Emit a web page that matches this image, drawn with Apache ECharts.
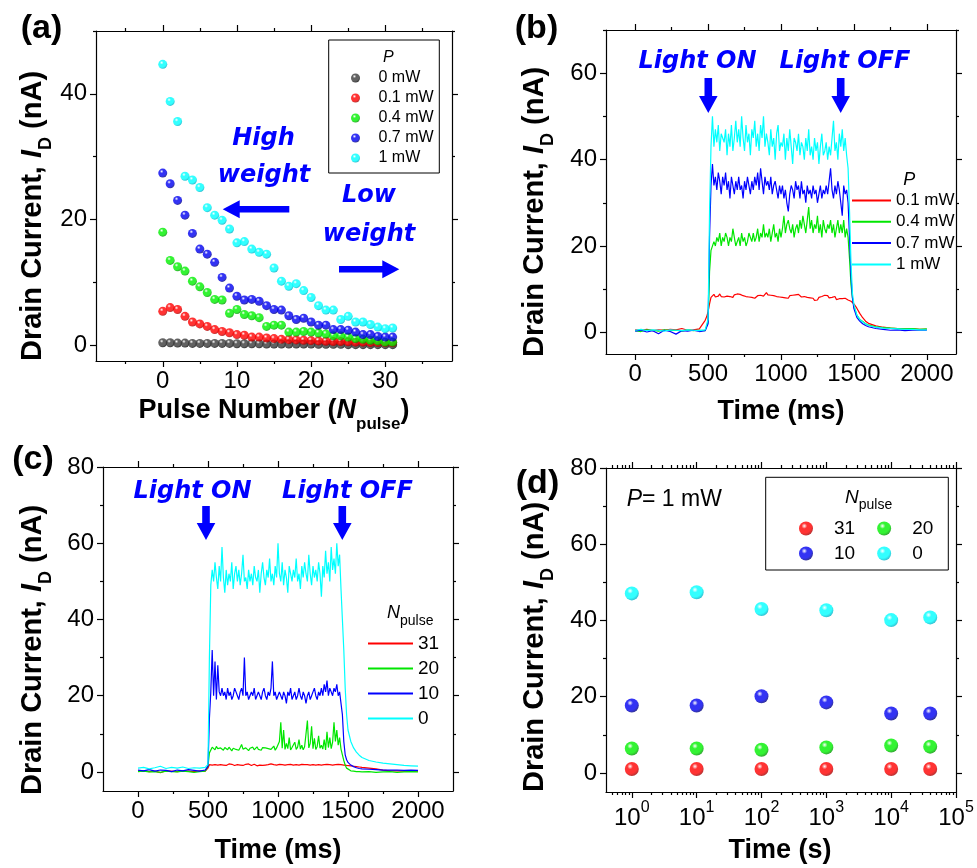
<!DOCTYPE html>
<html><head><meta charset="utf-8">
<script src="https://cdn.jsdelivr.net/npm/echarts@6/dist/echarts.min.js"></script>
<style>html,body{margin:0;padding:0;background:#fff}#c{width:977px;height:868px}</style>
</head><body><div id="c"></div><script>
// ---------------- Panel (a) ----------------
const pulseNumbers = [0,1,2,3,4,5,6,7,8,9,10,11,12,13,14,15,16,17,18,19,20,21,22,23,24,25,26,27,28,29,30,31];
const aNames = ['0 mW','0.1 mW','0.4 mW','0.7 mW','1 mW'];
const aP0  = [0.4,0.4,0.35,0.35,0.3,0.3,0.3,0.3,0.3,0.3,0.25,0.25,0.25,0.25,0.2,0.2,0.2,0.2,0.2,0.2,0.2,0.15,0.15,0.15,0.15,0.1,0.1,0.1,0.1,0.1,0.1,0.1];
const aP01 = [5.4,6.0,5.7,4.6,3.7,3.4,3.0,2.5,2.2,2.0,1.7,1.6,1.3,1.3,1.16,1.06,0.95,0.9,0.85,0.8,0.75,0.7,0.65,0.6,0.6,0.55,0.5,0.5,0.45,0.45,0.4,0.4];
const aP04 = [18.0,13.5,12.5,11.8,10.2,9.3,8.4,7.3,7.2,5.1,5.7,4.9,4.7,4.4,3.0,3.2,3.2,2.1,2.1,2.2,2.1,1.96,1.8,1.5,1.5,1.3,1.06,0.95,0.8,0.7,0.5,0.5];
const aP07 = [27.4,25.7,23.05,20.7,17.8,15.3,14.5,13.2,10.8,9.1,7.8,7.2,7.3,7.0,6.3,5.7,5.6,4.7,4.1,4.3,3.7,3.2,3.2,2.5,2.5,2.4,2.1,1.7,1.7,1.4,1.3,1.3];
const aP1  = [44.7,38.8,35.6,26.9,26.3,25.1,21.9,20.7,19.9,18.5,16.3,16.5,15.3,14.8,14.5,12.3,10.2,9.4,9.8,8.7,7.6,6.3,5.6,5.6,4.1,4.6,3.7,3.7,3.3,2.9,2.65,2.75];

// ---------------- Panel (b) ----------------
const bNames = ['0.1 mW ','0.4 mW ','0.7 mW ','1 mW '];
const bTime = [0,40,80,120,160,200,240,280,320,360,400,440,480,
 490,500,510,520,
 530,540,550,560,570,580,590,600,
 610,620,630,640,650,660,670,680,690,700,
 710,720,730,740,750,760,770,780,790,800,
 810,820,830,840,850,860,870,880,890,900,
 910,920,930,940,950,960,970,980,990,1000,
 1010,1020,1030,1040,1050,1060,1070,1080,1090,1100,
 1110,1120,1130,1140,1150,1160,1170,1180,1190,1200,
 1210,1220,1230,1240,1250,1260,1270,1280,1290,1300,
 1310,1320,1330,1340,1350,1360,1370,1380,1390,1400,
 1410,1420,1430,1440,1450,
 1460,1470,1480,1490,1500,1520,1540,1560,1580,1600,1650,1700,1750,1800,1850,1900,1950,2000];
const bP01 = [0.6,0.5,0.7,0.4,0.6,0.5,0.7,0.6,0.9,0.5,0.6,0.8,2.8,
 3.6,4.8,6.6,8.1,
 8.5,8.8,8.2,8.6,8.4,8.9,8.3,8.7,
 8.2,8.6,8.4,8.8,8.3,8.5,8.1,8.7,8.4,8.9,
 9.3,8.8,9.0,8.5,8.7,8.3,8.6,8.2,8.4,8.1,
 8.3,7.9,8.2,8.5,8.1,8.6,8.9,8.4,8.8,9.2,
 8.7,9.0,8.6,8.9,8.5,8.8,8.3,8.6,8.2,8.5,
 8.1,8.4,8.0,8.3,7.9,8.5,8.2,8.6,8.3,8.7,
 8.4,8.8,8.5,8.2,8.6,8.3,8.7,8.1,8.4,8.0,
 7.6,7.9,7.4,7.8,7.5,8.1,7.7,8.3,7.9,8.6,
 8.2,8.5,8.0,7.7,8.1,7.8,8.3,7.6,8.0,7.8,
 7.4,7.8,7.5,7.9,7.6,
 7.5,7.4,7.2,7.0,6.6,5.6,4.4,3.4,2.6,2.1,1.5,1.2,1.0,0.9,0.8,0.8,0.7,0.7];
const bP04 = [0.4,0.2,0.6,0.5,0.3,0.6,0.4,0.5,0.3,0.6,0.4,0.5,0.4,
 0.5,2.5,14,19,
 19,21,20,22,21,23,20,22,
 21,23,22,20,22,21,24,22,20,21,
 22,20,23,21,22,20,21,23,22,21,
 23,21,22,24,21,23,22,25,22,23,
 22,24,21,23,25,22,23,21,24,22,
 24,27,23,25,26,24,23,25,22,24,
 25,23,26,24,27,25,23,26,29,24,
 26,23,25,24,27,23,25,22,26,24,
 23,25,24,26,23,25,22,24,26,23,
 25,23,26,22,24,
 22,17,11,8,6,4,3,2.5,2,1.7,1.3,1.1,1.0,0.9,0.8,0.9,0.7,0.8];
const bP07 = [0.3,0.5,0.1,0.4,-0.3,0.5,0.2,-0.4,0.4,0.3,0.5,0.2,0.4,
 0.4,2,22,34,
 39,34,36,33,37,35,32,36,
 34,37,33,35,31,36,34,32,35,33,
 36,33,34,31,35,33,36,34,32,35,
 33,36,34,37,33,38,35,32,36,34,
 35,33,36,32,34,35,33,31,34,32,
 34,31,33,30,28,32,34,33,31,35,
 33,34,31,35,32,33,30,34,32,33,
 31,34,32,33,30,32,34,31,33,32,
 34,32,35,38,33,31,34,32,35,33,
 30,27,34,32,33,
 30,22,13,8,5.5,3.5,2.6,2.0,1.6,1.3,0.9,0.7,0.5,0.6,0.4,0.5,0.5,0.5];
const bP1 = [0.5,0.7,0.4,0.6,0.5,0.3,0.6,0.5,0.4,0.6,0.5,0.4,0.6,
 0.5,3,28,43,
 50,43,47,44,48,42,46,45,
 44,47,41,46,43,48,42,45,49,44,
 47,43,50,45,42,48,44,46,41,47,
 45,49,43,46,42,48,45,50,43,46,
 44,41,47,43,45,40,46,48,42,44,
 43,46,40,45,42,47,43,39,45,44,
 42,46,41,44,43,40,45,42,47,41,
 43,40,45,42,44,39,43,46,41,42,
 44,40,43,41,45,49,42,44,40,46,
 43,47,42,45,41,
 38,28,16,9,6.5,4,3,2.4,2,1.6,1.2,1,0.9,0.8,0.7,0.7,0.6,0.6];

// ---------------- Panel (c) ----------------
const cNames = ['31','20','10','0'];
const cTime = [0,40,80,120,160,200,240,280,320,360,400,440,480,
 490,500,510,
 520,530,540,550,560,570,580,590,600,
 610,620,630,640,650,660,670,680,690,700,
 710,720,730,740,750,760,770,780,790,800,
 810,820,830,840,850,860,870,880,890,900,
 910,920,930,940,950,960,970,980,990,1000,
 1010,1020,1030,1040,1050,1060,1070,1080,1090,1100,
 1110,1120,1130,1140,1150,1160,1170,1180,1190,1200,
 1210,1220,1230,1240,1250,1260,1270,1280,1290,1300,
 1310,1320,1330,1340,1350,1360,1370,1380,1390,1400,
 1410,1420,1430,1440,
 1450,1460,1470,1480,1490,1500,1520,1540,1560,1580,1600,1650,1700,1750,1800,1850,1900,1950,2000];
const cN31 = [0.2,0.3,0.1,0.2,-0.2,0.3,0.2,0.1,0.3,0.2,0.1,0.3,0.2,
 0.3,1.0,1.9,
 2.1,1.8,2.0,1.9,2.2,1.8,2.0,1.9,2.1,
 1.8,2.0,1.7,1.9,2.1,1.8,2.0,1.9,1.7,2.0,
 1.9,2.1,1.8,2.0,1.7,1.9,2.0,1.8,2.1,1.9,
 1.7,1.9,2.0,1.8,1.6,1.9,1.8,2.0,1.7,1.9,
 1.8,2.0,1.9,1.7,2.1,1.8,1.9,2.0,1.8,1.9,
 2.0,1.8,1.9,2.1,1.8,2.0,1.9,1.7,2.0,1.9,
 1.8,2.0,1.9,2.1,1.8,1.9,2.0,1.8,1.9,2.1,
 1.9,2.0,1.8,2.1,1.9,2.0,1.8,2.0,1.9,2.1,
 1.8,2.0,1.9,1.7,2.0,1.8,1.9,2.1,1.8,2.0,
 1.9,1.8,2.0,1.9,
 1.9,1.9,1.8,1.8,1.7,1.7,1.6,1.5,1.4,1.3,1.2,1.0,0.8,0.5,0.3,0.3,0.2,0.2,0.2];
const cN20 = [0.1,0.2,0.0,0.1,-0.1,0.2,0.1,0.0,0.2,0.1,-0.1,0.1,0.2,
 0.3,1.5,5.0,
 5.5,6.5,6.0,5.8,6.7,6.1,5.6,6.3,6.0,
 5.7,6.4,6.1,5.8,6.5,6.0,5.5,6.2,6.6,5.9,
 6.1,5.7,6.4,7.2,6.0,5.8,6.3,6.1,5.6,6.2,
 6.0,6.5,5.8,6.2,6.6,5.9,6.1,5.7,6.4,6.0,
 6.3,5.8,6.1,6.5,5.9,6.2,6.8,5.7,6.3,6.0,
 8.0,13.0,6.2,11.0,5.9,7.5,6.1,9.0,5.8,6.4,
 6.2,7.8,5.9,6.5,8.5,6.0,7.0,5.8,6.6,10.0,
 13.5,6.3,7.5,12.0,6.1,8.8,5.9,6.7,9.5,6.2,
 7.0,6.0,8.5,5.8,10.5,6.4,9.0,6.1,7.8,13.0,
 8.0,11.0,7.0,9.0,
 6.0,4.5,3.0,1.8,1.0,0.6,0.3,0.2,0.1,0.1,0.0,0.1,-0.1,0.0,0.1,-0.1,0.0,0.1,0.0];
const cN10 = [0.5,0.3,0.6,0.2,0.5,0.4,0.1,0.5,0.3,0.6,0.4,0.2,0.5,
 0.5,1.5,14,
 21,32,20,29,19,28,21,20,22,
 20,21,19,22,20,21,19,20,22,21,
 20,19,21,22,20,30,20,21,19,20,
 21,20,22,19,20,21,20,19,21,22,
 20,19,21,20,22,29,20,21,19,20,
 21,20,19,21,20,18,21,20,22,19,
 20,21,19,20,22,20,19,21,20,18,
 20,21,19,20,21,22,20,19,21,20,
 22,20,23,21,24,20,22,21,20,22,
 21,23,20,21,
 21,15,8,4.5,3.2,2.5,1.8,1.4,1.1,0.9,0.8,0.7,0.6,0.5,0.5,0.5,0.4,0.5,0.4];
const cN0 = [1.0,1.2,0.8,1.1,1.5,0.9,1.2,1.0,1.3,0.9,1.1,1.0,1.2,
 1.0,2.0,30,
 49,53,50,55,51,48,54,50,59,
 51,47,53,49,52,50,55,48,52,54,
 50,53,49,52,57,50,51,48,53,50,
 52,49,54,51,50,53,47,52,55,51,
 49,53,51,56,50,52,49,54,51,60,
 52,50,55,49,53,51,47,54,52,50,
 53,51,56,50,52,48,54,51,55,52,
 50,57,52,49,54,51,53,50,55,52,
 46,54,51,58,52,55,50,59,53,56,
 52,60,54,57,
 48,40,32,22,15,11,8,6.3,5.2,4.4,3.8,3.0,2.6,2.3,2.1,1.9,1.7,1.6,1.5];

// ---------------- Panel (d) ----------------
const dNames = ['31 ','20 ','10 ','0 '];
const dTime = [1,10,100,1000,10000,40000];
const dN31 = [1.05,1.05,1.05,1.05,1.05,1.05];
const dN20 = [6.4,6.4,6.1,6.7,7.2,6.9];
const dN10 = [17.7,17.7,20.1,18.5,15.6,15.6];
const dN0  = [47.1,47.4,43.0,42.7,40.1,40.8];

// ---------------- Ticks ----------------
const aXMajor=[0,10,20,30], aXMinor=[-5,5,15,25,35];
const aYMajor=[0,20,40], aYMinor=[10,30,50];
const bXMajor=[0,500,1000,1500,2000], bXMinor=[250,750,1250,1750];
const bYMajor=[0,20,40,60], bYMinor=[10,30,50,70];
const cXMajor=[0,500,1000,1500,2000], cXMinor=[250,750,1250,1750];
const cYMajor=[0,20,40,60,80], cYMinor=[10,30,50,70];
const dXMajor=[1,10,100,1000,10000,100000];
const dXMinor=[0.5,0.6,0.7,0.8,0.9,2,3,4,5,6,7,8,9,20,30,40,50,60,70,80,90,200,300,400,500,600,700,800,900,2000,3000,4000,5000,6000,7000,8000,9000,20000,30000,40000,50000,60000,70000,80000,90000];
const dYMajor=[0,20,40,60,80], dYMinor=[10,30,50,70];

const FONT = '"Liberation Sans", Arial, Helvetica, sans-serif';
const AFONT = '"DejaVu Sans", Verdana, sans-serif';
const BLUE = '#0000ff';

const grids = [
  {left:96, top:31, width:356, height:330},
  {left:606, top:30, width:350, height:324},
  {left:103, top:467, width:350, height:324},
  {left:606, top:468, width:350, height:324}
].map(g => Object.assign({containLabel:false, outerBoundsMode:'none'}, g));

const xAxes = [], yAxes = [];
const LS = {color:'#000', width:1.2};
function addAxes(list, gi, type, min, max, major, minor, posMain, posOpp, label) {
  const base = {gridIndex:gi, type, min, max, splitLine:{show:false}, splitArea:{show:false}};
  if (type === 'log') base.logBase = 10;
  const idx = list.length;
  list.push(Object.assign({}, base, {position:posMain,
    axisLine:{show:true,onZero:false,lineStyle:LS},
    axisTick:{show:true,inside:false,length:6,customValues:major,lineStyle:LS},
    axisLabel:Object.assign({show:true,customValues:major,color:'#000',fontSize:24,fontFamily:FONT,
      formatter: v => String(v)}, label)}));
  list.push(Object.assign({}, base, {position:posMain,
    axisLine:{show:false,onZero:false},
    axisTick:{show:true,inside:false,length:3,customValues:minor,lineStyle:LS},
    axisLabel:{show:false}}));
  list.push(Object.assign({}, base, {position:posOpp,
    axisLine:{show:true,onZero:false,lineStyle:LS},
    axisTick:{show:true,inside:false,length:6,customValues:major,lineStyle:LS},
    axisLabel:{show:false}}));
  list.push(Object.assign({}, base, {position:posOpp,
    axisLine:{show:false,onZero:false},
    axisTick:{show:true,inside:false,length:3,customValues:minor,lineStyle:LS},
    axisLabel:{show:false}}));
  return idx;
}
const xl = {margin:8}, yl = {margin:9};
const aX = addAxes(xAxes,0,'value',-9,39,aXMajor,aXMinor,'bottom','top',xl);
const aY = addAxes(yAxes,0,'value',-2.5,50,aYMajor,aYMinor,'left','right',yl);
const bX = addAxes(xAxes,1,'value',-200,2200,bXMajor,bXMinor,'bottom','top',xl);
const bY = addAxes(yAxes,1,'value',-5,70,bYMajor,bYMinor,'left','right',yl);
const cX = addAxes(xAxes,2,'value',-250,2250,cXMajor,cXMinor,'bottom','top',xl);
const cY = addAxes(yAxes,2,'value',-5,80,cYMajor,cYMinor,'left','right',yl);
const dX = addAxes(xAxes,3,'log',0.4,100000,dXMajor,dXMinor,'bottom','top',{
  margin:8,
  formatter: v => '{b|10}{p|' + Math.round(Math.log(v)/Math.LN10) + '}',
  rich:{b:{fontSize:24,fontFamily:FONT,color:'#000',lineHeight:36},
        p:{fontSize:16,fontFamily:FONT,color:'#000',verticalAlign:'top',lineHeight:16}}});
const dY = addAxes(yAxes,3,'value',-5,80,dYMajor,dYMinor,'left','right',yl);

function sphere(base, dark) {
  return {type:'radial', x:0.38, y:0.32, r:0.72, colorStops:[
    {offset:0,color:'#ffffff'},{offset:0.28,color:base},{offset:0.7,color:base},{offset:1,color:dark}]};
}
const ballColors = [['#3a3a3a','#000000'],['#ff0000','#990000'],['#00f000','#008800'],['#0000f0','#000070'],['#00ffff','#00a8c0']];
const lineColors = ['#ff0000','#00e600','#0000ff','#00ffff'];

const series = [];
[aP0,aP01,aP04,aP07,aP1].forEach((arr,k) => series.push({
  type:'scatter', name:aNames[k], xAxisIndex:aX, yAxisIndex:aY, symbolSize:9,
  itemStyle:{color:sphere(ballColors[k][0],ballColors[k][1])},
  data: pulseNumbers.map((n,i) => [n, arr[i]])
}));
[bP01,bP04,bP07,bP1].forEach((arr,k) => series.push({
  type:'line', name:bNames[k], xAxisIndex:bX, yAxisIndex:bY, symbol:'none',
  lineStyle:{color:lineColors[k], width:1.2}, itemStyle:{color:lineColors[k]},
  data: bTime.map((t,i) => [t, arr[i]])
}));
[cN31,cN20,cN10,cN0].forEach((arr,k) => series.push({
  type:'line', name:cNames[k], xAxisIndex:cX, yAxisIndex:cY, symbol:'none',
  lineStyle:{color:lineColors[k], width:1.2}, itemStyle:{color:lineColors[k]},
  data: cTime.map((t,i) => [t, arr[i]])
}));
[dN31,dN20,dN10,dN0].forEach((arr,k) => series.push({
  type:'scatter', name:dNames[k], xAxisIndex:dX, yAxisIndex:dY, symbolSize:14,
  itemStyle:{color:sphere(ballColors[k+1][0],ballColors[k+1][1])},
  data: dTime.map((t,i) => [t, arr[i]])
}));

const trimName = n => n.replace(/\s+$/,'');
const legends = [
  {data:aNames, orient:'vertical', left:351, top:70, itemWidth:36, itemHeight:9, itemGap:4, padding:0, selectedMode:false,
   textStyle:{fontSize:16, lineHeight:16, fontFamily:FONT, color:'#000'}},
  {data:bNames, orient:'vertical', left:852, top:192, itemWidth:39, itemHeight:2, itemGap:4.3, padding:0, selectedMode:false,
   icon:'rect', formatter:trimName, textStyle:{fontSize:17, lineHeight:17, fontFamily:FONT, color:'#000'}},
  {data:cNames, orient:'vertical', left:368, top:634, itemWidth:45, itemHeight:2, itemGap:6, padding:0, selectedMode:false,
   icon:'rect', textStyle:{fontSize:19, lineHeight:19, fontFamily:FONT, color:'#000'}},
  {data:['31 ','20 '], orient:'horizontal', left:799, top:519, itemWidth:46, itemHeight:14, itemGap:22, padding:0, selectedMode:false,
   formatter:trimName, textStyle:{fontSize:19, lineHeight:18, fontFamily:FONT, color:'#000'}},
  {data:['10 ','0 '], orient:'horizontal', left:799, top:544, itemWidth:46, itemHeight:14, itemGap:22, padding:0, selectedMode:false,
   formatter:trimName, textStyle:{fontSize:19, lineHeight:18, fontFamily:FONT, color:'#000'}}
];

// ---------------- Graphic (text, arrows, frames) ----------------
const g = [];
function txt(x, y, text, font, fill, align) {
  g.push({type:'text', x, y, silent:true, style:{text, font, fill:fill||'#000', align:align||'center', verticalAlign:'middle'}});
}
function richTxt(x, y, text, rich, rotation, align) {
  g.push({type:'text', x, y, rotation:rotation||0, silent:true,
    style:{text, rich, fill:'#000', align:align||'center', verticalAlign:'middle'}});
}
const titleRich = {
  m:{font:'bold 29px ' + FONT, lineHeight:44, fill:'#000'},
  i:{font:'italic bold 29px ' + FONT, lineHeight:44, fill:'#000'},
  s:{font:'bold 18px ' + FONT, lineHeight:18, verticalAlign:'bottom', fill:'#000'}
};
const xTitleRich = {
  m:{font:'bold 27px ' + FONT, lineHeight:44, fill:'#000'},
  i:{font:'italic bold 27px ' + FONT, lineHeight:44, fill:'#000'},
  s:{font:'bold 17px ' + FONT, lineHeight:17, verticalAlign:'bottom', fill:'#000'}
};
const yTitleText = '{m|Drain Current, }{i|I}{s|D}{m| (nA)}';
richTxt(33, 216, yTitleText, titleRich, Math.PI/2);
richTxt(535, 212, yTitleText, titleRich, Math.PI/2);
richTxt(33, 650, yTitleText, titleRich, Math.PI/2);
richTxt(535, 647, yTitleText, titleRich, Math.PI/2);
richTxt(274, 411, '{m|Pulse Number (}{i|N}{s|pulse}{m|)}', xTitleRich);
richTxt(781, 412, '{m|Time (ms)}', xTitleRich);
richTxt(278, 851, '{m|Time (ms)}', xTitleRich);
richTxt(780, 851, '{m|Time (s)}', xTitleRich);

// panel letters
const PL = 'bold 34px ' + FONT;
txt(41.5, 29, '(a)', PL); txt(536.5, 29, '(b)', PL); txt(33, 460, '(c)', PL); txt(537.5, 484, '(d)', PL);

// annotations
const AF = 'italic bold 24px ' + AFONT;
txt(263.5, 139, 'High', AF, BLUE); txt(264, 175.5, 'weight', AF, BLUE);
txt(369, 195.5, 'Low', AF, BLUE); txt(369, 234.5, 'weight', AF, BLUE);
txt(697.5, 62, 'Light ON', AF, BLUE); txt(845, 62, 'Light OFF', AF, BLUE);
txt(192.5, 492, 'Light ON', AF, BLUE); txt(347.5, 492, 'Light OFF', AF, BLUE);

function downArrow(cx, y0, y1) {
  const sh=3.8, hh=9.3, hl=17;
  g.push({type:'polygon', silent:true, shape:{points:[[cx-sh,y0],[cx+sh,y0],[cx+sh,y1-hl],[cx+hh,y1-hl],[cx,y1],[cx-hh,y1-hl],[cx-sh,y1-hl]]}, style:{fill:BLUE}});
}
function hArrow(xTail, xTip, y) {
  const sh=3.2, hh=9, hl=17, d = xTip > xTail ? 1 : -1;
  const b = xTip - d*hl;
  g.push({type:'polygon', silent:true, shape:{points:[[xTail,y-sh],[b,y-sh],[b,y-hh],[xTip,y],[b,y+hh],[b,y+sh],[xTail,y+sh]]}, style:{fill:BLUE}});
}
downArrow(708.3, 78, 113); downArrow(840.7, 78, 113);
downArrow(206, 506, 540); downArrow(342.3, 506, 540);
hArrow(289.3, 222.7, 209.3); hArrow(339, 399.3, 269.3);

// legend frames and titles
g.push({type:'rect', silent:true, shape:{x:328.7, y:40, width:110.6, height:133}, style:{fill:'none', stroke:'#000', lineWidth:1}});
g.push({type:'rect', silent:true, shape:{x:765.7, y:477.3, width:182.6, height:92.7}, style:{fill:'none', stroke:'#000', lineWidth:1}});
txt(388.3, 57.5, 'P', 'italic 16px ' + FONT);
txt(909.3, 180, 'P', 'italic 18px ' + FONT);
const nRich = (fs, ss) => ({
  n:{font:'italic ' + fs + 'px ' + FONT, lineHeight:30, fill:'#000'},
  s:{font:ss + 'px ' + FONT, lineHeight:ss, verticalAlign:'bottom', fill:'#000'}});
richTxt(387, 613, '{n|N}{s|pulse}', nRich(18, 14), 0, 'left');
richTxt(845, 497.5, '{n|N}{s|pulse}', nRich(19, 14), 0, 'left');
richTxt(626.7, 500, '{i|P}{m|= 1 mW}', {
  i:{font:'italic 23px ' + FONT, fill:'#000'}, m:{font:'23px ' + FONT, fill:'#000'}}, 0, 'left');

const chart = echarts.init(document.getElementById('c'), null, {renderer:'canvas'});
chart.setOption({
  animation:false,
  backgroundColor:'#ffffff',
  grid:grids, xAxis:xAxes, yAxis:yAxes, series, legend:legends, graphic:g
});
</script></body></html>
